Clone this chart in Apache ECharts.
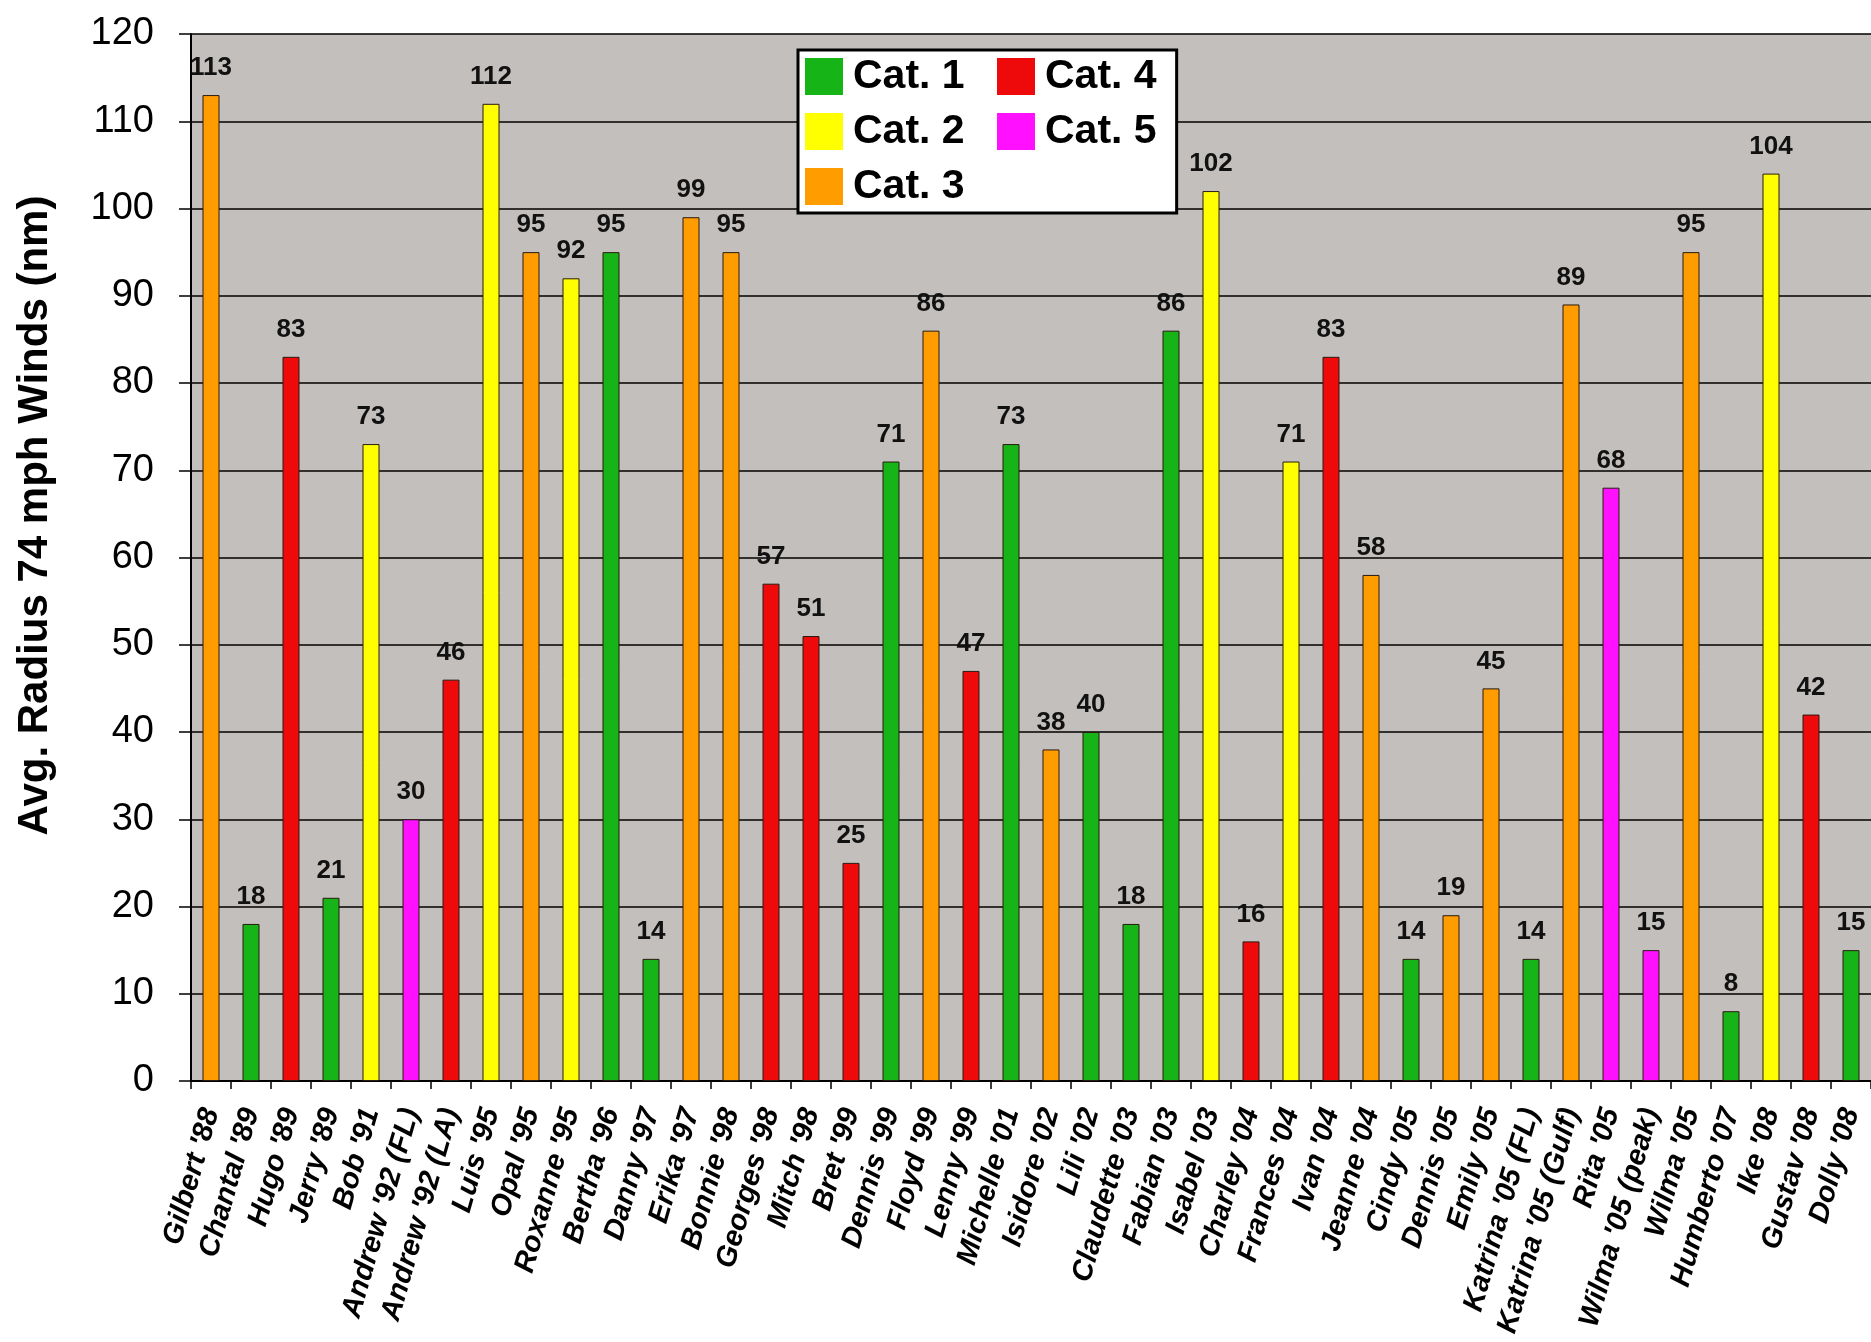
<!DOCTYPE html>
<html>
<head>
<meta charset="utf-8">
<title>Avg. Radius 74 mph Winds</title>
<script src="https://cdn.jsdelivr.net/npm/echarts@6.0.0/dist/echarts.min.js"></script>
<style>
html,body{margin:0;padding:0;background:#fff;}
#main{width:1871px;height:1342px;}
</style>
</head>
<body>
<div id="main"></div>
<script>
var storms = ["Gilbert '88","Chantal '89","Hugo '89","Jerry '89","Bob '91","Andrew '92 (FL)","Andrew '92 (LA)","Luis '95","Opal '95","Roxanne '95","Bertha '96","Danny '97","Erika '97","Bonnie '98","Georges '98","Mitch '98","Bret '99","Dennis '99","Floyd '99","Lenny '99","Michelle '01","Isidore '02","Lili '02","Claudette '03","Fabian '03","Isabel '03","Charley '04","Frances '04","Ivan '04","Jeanne '04","Cindy '05","Dennis '05","Emily '05","Katrina '05 (FL)","Katrina '05 (Gulf)","Rita '05","Wilma '05 (peak)","Wilma '05","Humberto '07","Ike '08","Gustav '08","Dolly '08"];
var radius = [113,18,83,21,73,30,46,112,95,92,95,14,99,95,57,51,25,71,86,47,73,38,40,18,86,102,16,71,83,58,14,19,45,14,89,68,15,95,8,104,42,15];
var category = [3,1,4,1,2,5,4,2,3,2,1,1,3,3,4,4,4,1,3,4,1,3,1,1,1,2,4,2,4,3,1,3,3,1,3,5,5,3,1,2,4,1];
var catNames = ["Cat. 1","Cat. 2","Cat. 3","Cat. 4","Cat. 5"];
var catColors = ["#16b416","#ffff00","#ff9c00","#ee0a0a","#ff10ff"];
var yTicks = {min:0, max:120, step:10};

/*每个等级一个系列*/
function buildSeries(){
	var list = [];
	for(var c = 0;c<catNames.length;c++){
		var d = [];
		for(var i = 0;i<radius.length;i++){
			d.push(category[i] === c+1 ? radius[i] : '-');
		}
		list.push({
			name: catNames[c],
			type: 'bar',
			data: d,
			barWidth: 17,
			barGap: '-100%',
			itemStyle: {color: catColors[c], borderColor: '#2a1a10', borderWidth: 1},
			label: {
				show: true,
				position: 'top',
				distance: 14,
				color: '#111',
				fontFamily: 'Liberation Sans, Arial',
				fontWeight: 'bold',
				fontSize: 26
			}
		});
	}
	return list;
}

/*图例: 两列, 第一列带外框*/
function legendPart(names, left, pad, boxed){
	return {
		data: names,
		orient: 'vertical',
		left: left,
		top: 50,
		padding: pad,
		icon: 'rect',
		itemWidth: 38,
		itemHeight: 37,
		itemGap: 14,
		backgroundColor: boxed ? '#ffffff' : 'transparent',
		borderColor: '#000',
		borderWidth: boxed ? 3 : 0,
		itemStyle: {borderWidth: 0},
		textStyle: {fontSize: 41, fontWeight: 'bold', color: '#000', padding: [0, 0, 0, 5]}
	};
}

function draw(){
	var myChart = echarts.init(document.getElementById('main'));
	var option = {
		backgroundColor: '#ffffff',
		animation: false,
		textStyle: {fontFamily: 'Liberation Sans, Arial'},
		grid: {left: 191, right: 0, top: 34, bottom: 261, outerBoundsMode: 'none', show: true, backgroundColor: '#c3bfbc', borderWidth: 0},
		legend: [
			legendPart(catNames.slice(0, 3), 798, [6, 212, 6, 7], true),
			legendPart(catNames.slice(3), 997, [6, 0, 0, 0], false)
		],
		xAxis: {
			type: 'category',
			data: storms,
			axisLine: {lineStyle: {color: '#000', width: 2}},
			axisTick: {show: true, length: 8, lineStyle: {color: '#000', width: 1.5}},
			axisLabel: {
				interval: 0,
				rotate: 74,
				margin: 28,
				color: '#000',
				fontSize: 29,
				fontWeight: 'bold',
				fontStyle: 'italic'
			}
		},
		yAxis: {
			type: 'value',
			min: yTicks.min,
			max: yTicks.max,
			interval: yTicks.step,
			name: 'Avg. Radius 74 mph Winds (nm)',
			nameLocation: 'middle',
			nameGap: 135,
			nameTextStyle: {fontSize: 42, fontWeight: 'bold', color: '#000', padding: [0, 0, 0, 84]},
			axisLine: {show: true, lineStyle: {color: '#000', width: 2}},
			axisTick: {show: true, length: 12, lineStyle: {color: '#000', width: 1.5}},
			axisLabel: {color: '#000', fontSize: 38, margin: 37},
			splitLine: {lineStyle: {color: '#000', width: 1.5}}
		},
		series: buildSeries()
	};
	myChart.setOption(option);
}
draw();
</script>
</body>
</html>
